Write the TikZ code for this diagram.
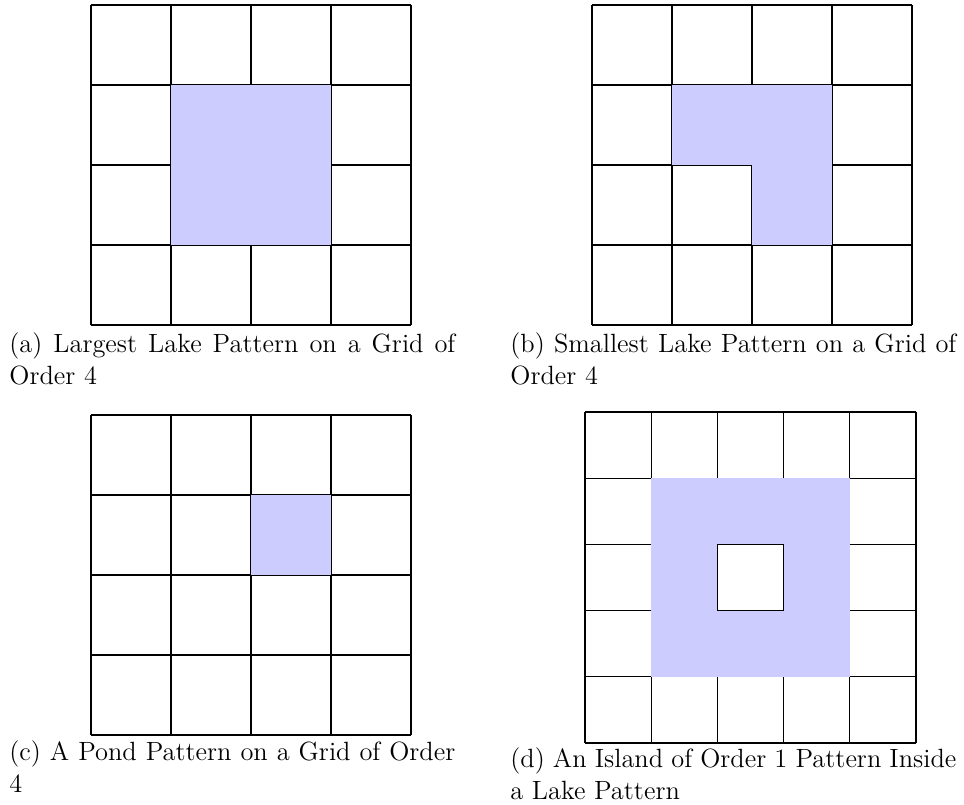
\documentclass[tikz,border=0pt]{standalone}
\usepackage{fontspec}
\setmainfont{Latin Modern Roman}
\definecolor{lake}{HTML}{CCCCFF}
\hyphenpenalty=10000
\exhyphenpenalty=10000
\newcommand\drawmygrid[4]{% x0, y0, n, cell
  \foreach \i in {0,...,#3}{%
    \draw[gridline] ({#1+\i*#4},{#2}) -- ({#1+\i*#4},{#2+#3*#4});
    \draw[gridline] ({#1},{#2+\i*#4}) -- ({#1+#3*#4},{#2+\i*#4});
  }}
\newcommand\lakecell[5]{% x0, y0, cell, col, row
  \fill[lakefill] ({#1+#4*#3},{#2+#5*#3}) rectangle ({#1+(#4+1)*#3},{#2+(#5+1)*#3});}
\begin{document}
\begin{tikzpicture}[x=0.5pt,y=-0.5pt,
  gridline/.style={line width=0.65pt,black},
  lakefill/.style={fill=lake},
  caption/.style={inner sep=0pt,anchor=base west,text width=223pt,align=justify,
    font=\fontsize{13.2}{16}\selectfont}]
\useasboundingbox (0,0) rectangle (964,804);
% (a)
\drawmygrid{91}{5}{4}{80}
\foreach \c/\r in {1/1,2/1,1/2,2/2}{\lakecell{91}{5}{80}{\c}{\r}}
% (b)
\drawmygrid{592}{5}{4}{80}
\foreach \c/\r in {1/1,2/1,2/2}{\lakecell{592}{5}{80}{\c}{\r}}
% (c)
\drawmygrid{91}{415}{4}{80}
\foreach \c/\r in {2/1}{\lakecell{91}{415}{80}{\c}{\r}}
% (d)
\drawmygrid{585}{412}{5}{66.2}
\foreach \c/\r in {1/1,2/1,3/1,1/2,3/2,1/3,2/3,3/3}{\lakecell{585}{412}{66.2}{\c}{\r}}
% captions
\node[caption] (capa) at (9,352) {(a) Largest Lake Pattern on a Grid of Order 4};
\node[caption] (capb) at (510,352) {(b) Smallest Lake Pattern on a Grid of Order 4};
\node[caption] (capc) at (9,760) {(c) A Pond Pattern on a Grid of Order 4};
\node[caption] (capd) at (510,767) {(d) An Island of Order 1 Pattern Inside a Lake Pattern};
\end{tikzpicture}
\end{document}
